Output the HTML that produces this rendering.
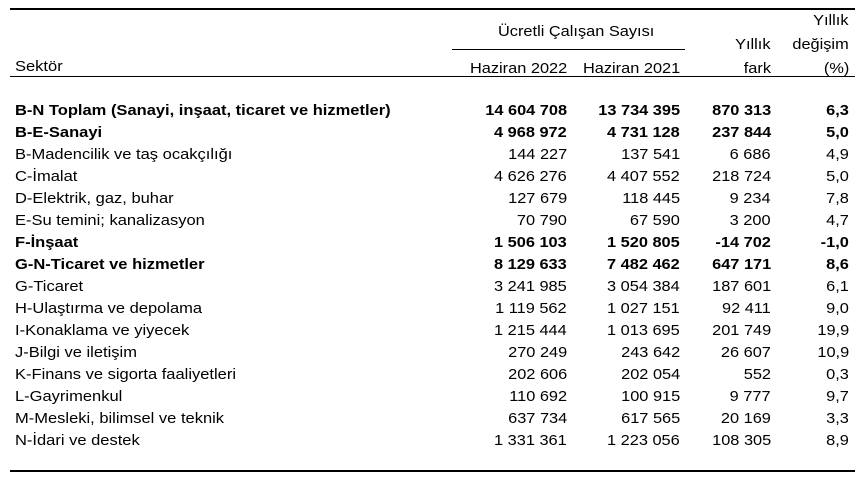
<!DOCTYPE html>
<html>
<head>
<meta charset="utf-8">
<style>
html,body{margin:0;padding:0;background:#fff;}
body{width:863px;height:479px;position:relative;overflow:hidden;font-family:"Liberation Sans",Arial,sans-serif;font-size:15px;line-height:15px;color:#000;}
.ln{position:absolute;background:#000;}
.t{position:absolute;white-space:nowrap;}
.l{left:15px;transform-origin:0 0;transform:scaleX(1.1);}
.r{transform-origin:100% 0;transform:scaleX(1.09);}
.c1{right:296px;}
.c2{right:183px;}
.c3{right:92px;}
.c4{right:14px;}
.row{position:absolute;left:0;width:863px;height:15px;}
.b{font-weight:bold;}
</style>
</head>
<body>
<div class="ln" style="left:10px;top:7.5px;width:845px;height:2px;"></div>
<div class="ln" style="left:452px;top:48.5px;width:233px;height:1px;"></div>
<div class="ln" style="left:10px;top:75.8px;width:845px;height:1px;"></div>
<div class="ln" style="left:10px;top:469.5px;width:845px;height:2.5px;"></div>

<!-- header -->
<span class="t r c4" style="top:13.3px;">Yıllık</span>
<span class="t" style="left:498px;top:23.5px;transform-origin:0 0;transform:scaleX(1.09);">Ücretli Çalışan Sayısı</span>
<span class="t r c3" style="top:37.3px;">Yıllık</span>
<span class="t r c4" style="top:37.3px;">değişim</span>
<span class="t l" style="top:59px;">Sektör</span>
<span class="t r c1" style="top:61px;">Haziran 2022</span>
<span class="t r c2" style="top:61px;">Haziran 2021</span>
<span class="t r c3" style="top:61px;">fark</span>
<span class="t r c4" style="top:61px;">(%)</span>

<!-- rows -->
<div class="row b" style="top:103px;"><span class="t l">B-N Toplam (Sanayi, inşaat, ticaret ve hizmetler)</span><span class="t r c1">14 604 708</span><span class="t r c2">13 734 395</span><span class="t r c3">870 313</span><span class="t r c4">6,3</span></div>
<div class="row b" style="top:125px;"><span class="t l">B-E-Sanayi</span><span class="t r c1">4 968 972</span><span class="t r c2">4 731 128</span><span class="t r c3">237 844</span><span class="t r c4">5,0</span></div>
<div class="row" style="top:147px;"><span class="t l">B-Madencilik ve taş ocakçılığı</span><span class="t r c1">144 227</span><span class="t r c2">137 541</span><span class="t r c3">6 686</span><span class="t r c4">4,9</span></div>
<div class="row" style="top:169px;"><span class="t l">C-İmalat</span><span class="t r c1">4 626 276</span><span class="t r c2">4 407 552</span><span class="t r c3">218 724</span><span class="t r c4">5,0</span></div>
<div class="row" style="top:191px;"><span class="t l">D-Elektrik, gaz, buhar</span><span class="t r c1">127 679</span><span class="t r c2">118 445</span><span class="t r c3">9 234</span><span class="t r c4">7,8</span></div>
<div class="row" style="top:213px;"><span class="t l">E-Su temini; kanalizasyon</span><span class="t r c1">70 790</span><span class="t r c2">67 590</span><span class="t r c3">3 200</span><span class="t r c4">4,7</span></div>
<div class="row b" style="top:235px;"><span class="t l">F-İnşaat</span><span class="t r c1">1 506 103</span><span class="t r c2">1 520 805</span><span class="t r c3">-14 702</span><span class="t r c4">-1,0</span></div>
<div class="row b" style="top:257px;"><span class="t l">G-N-Ticaret ve hizmetler</span><span class="t r c1">8 129 633</span><span class="t r c2">7 482 462</span><span class="t r c3">647 171</span><span class="t r c4">8,6</span></div>
<div class="row" style="top:279px;"><span class="t l">G-Ticaret</span><span class="t r c1">3 241 985</span><span class="t r c2">3 054 384</span><span class="t r c3">187 601</span><span class="t r c4">6,1</span></div>
<div class="row" style="top:301px;"><span class="t l">H-Ulaştırma ve depolama</span><span class="t r c1">1 119 562</span><span class="t r c2">1 027 151</span><span class="t r c3">92 411</span><span class="t r c4">9,0</span></div>
<div class="row" style="top:323px;"><span class="t l">I-Konaklama ve yiyecek</span><span class="t r c1">1 215 444</span><span class="t r c2">1 013 695</span><span class="t r c3">201 749</span><span class="t r c4">19,9</span></div>
<div class="row" style="top:345px;"><span class="t l">J-Bilgi ve iletişim</span><span class="t r c1">270 249</span><span class="t r c2">243 642</span><span class="t r c3">26 607</span><span class="t r c4">10,9</span></div>
<div class="row" style="top:367px;"><span class="t l">K-Finans ve sigorta faaliyetleri</span><span class="t r c1">202 606</span><span class="t r c2">202 054</span><span class="t r c3">552</span><span class="t r c4">0,3</span></div>
<div class="row" style="top:389px;"><span class="t l">L-Gayrimenkul</span><span class="t r c1">110 692</span><span class="t r c2">100 915</span><span class="t r c3">9 777</span><span class="t r c4">9,7</span></div>
<div class="row" style="top:411px;"><span class="t l">M-Mesleki, bilimsel ve teknik</span><span class="t r c1">637 734</span><span class="t r c2">617 565</span><span class="t r c3">20 169</span><span class="t r c4">3,3</span></div>
<div class="row" style="top:433px;"><span class="t l">N-İdari ve destek</span><span class="t r c1">1 331 361</span><span class="t r c2">1 223 056</span><span class="t r c3">108 305</span><span class="t r c4">8,9</span></div>
</body>
</html>
